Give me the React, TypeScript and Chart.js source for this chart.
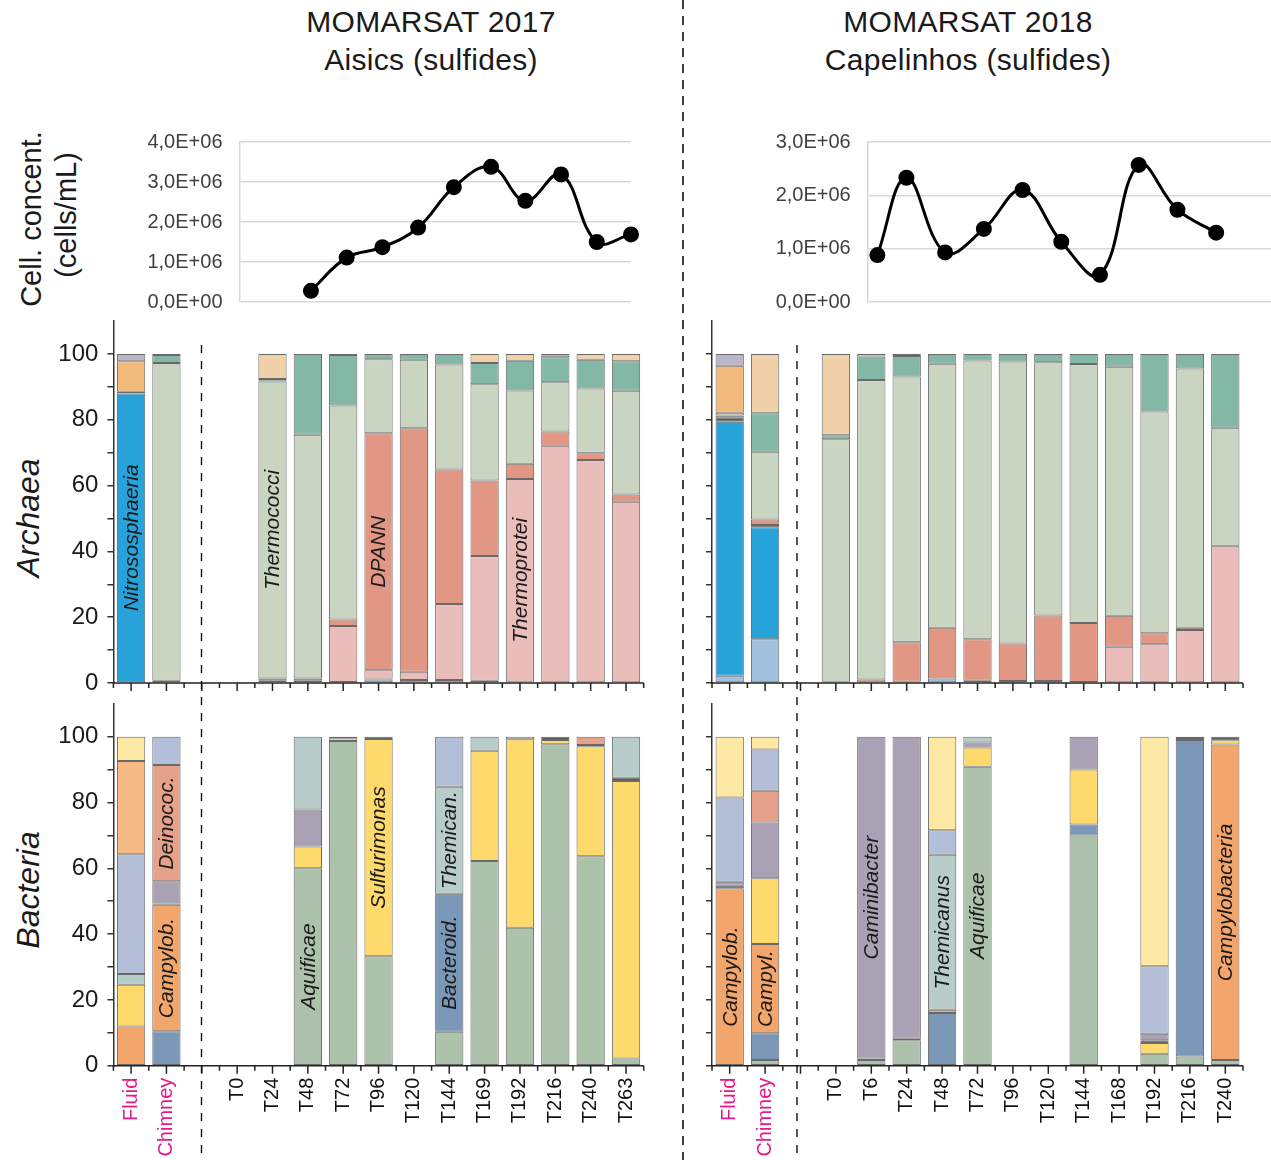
import React, { useEffect, useRef } from 'react';
import { Chart, registerables } from 'chart.js';
Chart.register(...registerables);

const FONT = "'Liberation Sans', Arial, Helvetica, sans-serif";
const MAGENTA = '#e6198a';
const _ = null;

// ---------- categories ----------
const categories2017 = ['Fluid', 'Chimney', '', 'T0', 'T24', 'T48', 'T72', 'T96', 'T120', 'T144', 'T169', 'T192', 'T216', 'T240', 'T263'];
const categories2018 = ['Fluid', 'Chimney', '', 'T0', 'T6', 'T24', 'T48', 'T72', 'T96', 'T120', 'T144', 'T168', 'T192', 'T216', 'T240'];

// ---------- cell concentration (cells/mL) ----------
const cellHours2017 = [48, 72, 96, 120, 144, 169, 192, 216, 240, 263];
const cellConc2017 = [0.28e6, 1.11e6, 1.37e6, 1.86e6, 2.87e6, 3.38e6, 2.53e6, 3.19e6, 1.5e6, 1.69e6];
const cellHours2018 = [6, 24, 48, 72, 96, 120, 144, 168, 192, 216];
const cellConc2018 = [0.88e6, 2.33e6, 0.93e6, 1.37e6, 2.1e6, 1.13e6, 0.51e6, 2.57e6, 1.73e6, 1.3e6];

// ---------- Archaea 2017 (%) ----------
const arch17LightBlue = [_, _, _, _, _, _, _, 1.1, 0.9, 0.9, 0.7, _, _, _, _];
const arch17Blue = [88, _, _, _, _, _, _, _, _, _, _, _, _, _, _];
const arch17Dark = [0.5, 0.7, _, _, _, _, 0.3, _, _, _, _, 0.4, _, _, _];
const arch17Pink = [_, _, _, _, 0.7, 0.7, 17, 2.8, 2.5, 23.1, 37.9, 61.6, 72.1, 67.8, 55.1];
const arch17Salmon = [_, _, _, _, 0.7, 0.7, 2, 72, 74, 40.9, 22.9, 4.6, 4.3, 2, 2.2];
const arch17LightGreen = [_, 96.5, _, _, 90.2, 74, 65, 22.5, 20.8, 31.9, 29.3, 22.3, 15, 19.7, 31.5];
const arch17Teal = [_, 2.5, _, _, 0.8, 24.6, 15.4, 1.6, 1.8, 3.2, 6.4, 9, 7.6, 8.7, 9];
const arch17Peach = [_, _, _, _, 7.6, _, _, _, _, _, 2.8, 2.1, _, 1.8, 2.2];
const arch17LightOrange = [9.3, 0.3, _, _, _, _, _, _, _, _, _, _, _, _, _];
const arch17Lavender = [2.2, _, _, _, _, _, 0.3, _, _, _, _, _, 1, _, _];

// ---------- Archaea 2018 (%) ----------
const arch18LightBlue = [2.2, 13.3, _, _, _, _, 1.4, _, _, _, _, _, _, _, _];
const arch18Blue = [77.2, 34, _, _, _, _, _, _, _, _, _, _, _, _, _];
const arch18Dark = [1.2, 0.7, _, 0.4, _, 0.4, _, 0.7, 0.6, 0.6, 0.3, _, _, _, _];
const arch18Pink = [_, _, _, _, _, _, _, _, _, _, _, 11, 11.8, 16.1, 41.7];
const arch18Salmon = [_, 1.7, _, _, 1.1, 12, 15.4, 12.6, 11.4, 19.9, 17.9, 9.4, 3.3, 0.7, _];
const arch18LightGreen = [_, 20.6, _, 73.7, 91, 80.7, 80.2, 84.7, 85.7, 77, 78.7, 75.7, 67.4, 78.8, 35.9];
const arch18Teal = [0.7, 11.7, _, 1.2, 7.1, 6.3, 3, 2, 2.3, 2.5, 3.1, 3.9, 17.5, 4.4, 22.4];
const arch18Peach = [0.8, 18, _, 24.7, 0.8, 0.6, _, _, _, _, _, _, _, _, _];
const arch18LightOrange = [14.3, _, _, _, _, _, _, _, _, _, _, _, _, _, _];
const arch18Lavender = [3.6, _, _, _, _, _, _, _, _, _, _, _, _, _, _];

// ---------- Bacteria 2017 (%) ----------
const bact17Green = [_, _, _, _, _, 60, 98.7, 33.3, _, 10.3, 62.2, 41.9, 97.7, 63.7, 2.2];
const bact17SteelBlue = [_, 10.5, _, _, _, _, _, _, _, 42, _, _, _, _, _];
const bact17Orange = [11.9, 38.4, _, _, _, _, _, _, _, _, _, _, _, _, _];
const bact17Yellow = [12.7, _, _, _, _, 6.6, 0.8, 66, _, _, 33.5, 57.3, 1.3, 33.4, 84.3];
const bact17Dark = [_, 0.4, _, _, _, _, 0.5, 0.7, _, _, _, _, 1, 0.4, 1];
const bact17Purple = [_, 6.8, _, _, _, 11.3, _, _, _, _, _, _, _, _, _];
const bact17PaleTeal = [3.3, _, _, _, _, 22.1, _, _, _, 32.5, 4.3, _, _, _, 12.5];
const bact17Salmon = [_, 35.3, _, _, _, _, _, _, _, _, _, _, _, 2.5, _];
const bact17BlueGray = [36.4, 8.6, _, _, _, _, _, _, _, 15.2, _, _, _, _, _];
const bact17LightOrange = [28.3, _, _, _, _, _, _, _, _, _, _, _, _, _, _];
const bact17LightYellow = [7.4, _, _, _, _, _, _, _, _, _, _, 0.8, _, _, _];

// ---------- Bacteria 2018 (%) ----------
const bact18Green = [_, 1.7, _, _, 1.7, 7.7, _, 90.9, _, _, 70, _, 3.6, 2.8, 1.7];
const bact18SteelBlue = [_, 8.2, _, _, _, _, 16, _, _, _, 3.3, _, _, 96.2, _];
const bact18Orange = [53.9, 27.1, _, _, _, _, 1, _, _, _, _, _, _, _, 95.9];
const bact18Yellow = [_, 20, _, _, _, _, _, 5.8, _, _, 16.7, _, 3.3, 0.6, 1.3];
const bact18Dark = [0.8, _, _, _, 0.5, 0.5, _, _, _, _, _, _, 0.8, 0.4, 1.1];
const bact18Purple = [1.2, 16.9, _, _, 97.8, 91.8, _, 1.5, _, _, 10, _, 2, _, _];
const bact18PaleTeal = [_, _, _, _, _, _, 47.1, 1.8, _, _, _, _, _, _, _];
const bact18Salmon = [_, 9.7, _, _, _, _, _, _, _, _, _, _, _, _, _];
const bact18BlueGray = [25.6, 12.5, _, _, _, _, 7.5, _, _, _, _, _, 20.5, _, _];
const bact18LightYellow = [18.5, 3.9, _, _, _, _, 28.4, _, _, _, _, _, 69.8, _, _];

// ---------- colours ----------
const C = {
  lightBlue: '#a2c1df', blue: '#27a3da', dark: '#5b5b5b', pink: '#ebbdba', salmonA: '#e29784',
  lightGreen: '#c9d5c1', teal: '#83b8a6', peach: '#f1d1aa', lightOrangeA: '#f2b97c', lavender: '#bbb6c9',
  green: '#adc2ab', steelBlue: '#7b98b9', orange: '#f2a66c', yellow: '#fed96c', purple: '#a9a2b4',
  paleTeal: '#b8cdca', salmonB: '#e5a189', blueGray: '#b3bfd9', lightOrangeB: '#f6ba85', lightYellow: '#fde8a4',
};

const archaea2017 = [
  ['lightBlue', arch17LightBlue, C.lightBlue], ['blue', arch17Blue, C.blue], ['dark', arch17Dark, C.dark],
  ['pink', arch17Pink, C.pink], ['salmon', arch17Salmon, C.salmonA], ['lightGreen', arch17LightGreen, C.lightGreen],
  ['teal', arch17Teal, C.teal], ['peach', arch17Peach, C.peach], ['lightOrange', arch17LightOrange, C.lightOrangeA],
  ['lavender', arch17Lavender, C.lavender],
];
const archaea2018 = [
  ['lightBlue', arch18LightBlue, C.lightBlue], ['blue', arch18Blue, C.blue], ['dark', arch18Dark, C.dark],
  ['pink', arch18Pink, C.pink], ['salmon', arch18Salmon, C.salmonA], ['lightGreen', arch18LightGreen, C.lightGreen],
  ['teal', arch18Teal, C.teal], ['peach', arch18Peach, C.peach], ['lightOrange', arch18LightOrange, C.lightOrangeA],
  ['lavender', arch18Lavender, C.lavender],
];
const bacteria2017 = [
  ['green', bact17Green, C.green], ['steelBlue', bact17SteelBlue, C.steelBlue], ['orange', bact17Orange, C.orange],
  ['yellow', bact17Yellow, C.yellow], ['dark', bact17Dark, C.dark], ['purple', bact17Purple, C.purple],
  ['paleTeal', bact17PaleTeal, C.paleTeal], ['salmon', bact17Salmon, C.salmonB], ['blueGray', bact17BlueGray, C.blueGray],
  ['lightOrange', bact17LightOrange, C.lightOrangeB], ['lightYellow', bact17LightYellow, C.lightYellow],
];
const bacteria2018 = [
  ['green', bact18Green, C.green], ['steelBlue', bact18SteelBlue, C.steelBlue], ['orange', bact18Orange, C.orange],
  ['yellow', bact18Yellow, C.yellow], ['dark', bact18Dark, C.dark], ['purple', bact18Purple, C.purple],
  ['paleTeal', bact18PaleTeal, C.paleTeal], ['salmon', bact18Salmon, C.salmonB], ['blueGray', bact18BlueGray, C.blueGray],
  ['lightYellow', bact18LightYellow, C.lightYellow],
];

// ---------- in-bar taxon labels ----------
const archaeaText2017 = [
  { cat: 'Fluid', taxon: 'blue', text: 'Nitrososphaeria' },
  { cat: 'T24', taxon: 'lightGreen', text: 'Thermococci' },
  { cat: 'T96', taxon: 'salmon', text: 'DPANN' },
  { cat: 'T192', taxon: 'pink', text: 'Thermoprotei' },
];
const bacteriaText2017 = [
  { cat: 'Chimney', taxon: 'salmon', text: 'Deinococ.' },
  { cat: 'Chimney', taxon: 'orange', text: 'Campylob.' },
  { cat: 'T48', taxon: 'green', text: 'Aquificae' },
  { cat: 'T96', taxon: 'yellow', text: 'Sulfurimonas' },
  { cat: 'T144', taxon: 'steelBlue', text: 'Bacteroid.' },
  { cat: 'T144', taxon: 'paleTeal', text: 'Themican.' },
];
const bacteriaText2018 = [
  { cat: 'Fluid', taxon: 'orange', text: 'Campylob.' },
  { cat: 'Chimney', taxon: 'orange', text: 'Campyl.' },
  { cat: 'T6', taxon: 'purple', text: 'Caminibacter' },
  { cat: 'T48', taxon: 'paleTeal', text: 'Themicanus' },
  { cat: 'T72', taxon: 'green', text: 'Aquificae' },
  { cat: 'T240', taxon: 'orange', text: 'Campylobacteria' },
];

// ---------- plugins ----------
const barTextPlugin = {
  id: 'barText',
  afterDatasetsDraw(chart: any, _args: any, opts: any) {
    const ctx = chart.ctx;
    const cats = chart.data.labels;
    (opts.items || []).forEach((it: any) => {
      const di = chart.data.datasets.findIndex((d: any) => d.label === it.taxon);
      const ci = cats.indexOf(it.cat);
      if (di < 0 || ci < 0) return;
      const el = chart.getDatasetMeta(di).data[ci];
      if (!el) return;
      const y = (el.y + el.base) / 2;
      ctx.save();
      ctx.translate(el.x, y);
      ctx.rotate(-Math.PI / 2);
      ctx.font = `italic 21px ${FONT}`;
      ctx.fillStyle = '#1a1a1a';
      ctx.textAlign = 'center';
      ctx.textBaseline = 'middle';
      ctx.fillText(it.text, 0, 1);
      ctx.restore();
    });
  },
};

const xAxisPlugin = {
  id: 'xAxisTicks',
  afterDraw(chart: any) {
    const { ctx, chartArea } = chart;
    const { left, right, bottom } = chartArea;
    const n = chart.data.labels.length;
    const step = (right - left) / n;
    ctx.save();
    ctx.strokeStyle = '#222';
    ctx.lineWidth = 1.5;
    ctx.beginPath();
    ctx.moveTo(left - 1, bottom);
    ctx.lineTo(right, bottom);
    for (let i = 0; i <= 2 * n; i++) {
      const x = left + (i * step) / 2;
      const len = i % 2 ? 8 : 5;
      ctx.moveTo(x, bottom);
      ctx.lineTo(x, bottom + len);
    }
    ctx.stroke();
    ctx.restore();
  },
};

function sci(v: number) {
  if (v === 0) return '0,0E+00';
  const e = Math.floor(Math.log10(v) + 1e-9);
  const m = v / Math.pow(10, e);
  return m.toFixed(1).replace('.', ',') + 'E+' + String(e).padStart(2, '0');
}

function noPad(s: any) {
  s.paddingTop = 0;
  s.paddingBottom = 0;
  s.paddingLeft = 0;
  s.paddingRight = 0;
}

function barConfig(cats: string[], groups: any[], texts: any[], showX: boolean, showYLabels: boolean, yWidth: number, pad: any, xHeight: number) {
  return {
    type: 'bar',
    data: {
      labels: cats,
      datasets: groups.map(([key, values, color]) => ({
        label: key,
        data: values,
        backgroundColor: color,
        borderColor: 'rgba(55,55,55,0.75)',
        borderWidth: 1,
        borderSkipped: false,
        barPercentage: 0.8,
        categoryPercentage: 1,
      })),
    },
    options: {
      responsive: false,
      animation: false,
      devicePixelRatio: 1,
      layout: { padding: pad, autoPadding: false },
      plugins: { legend: { display: false }, tooltip: { enabled: false }, barText: { items: texts } },
      scales: {
        x: {
          stacked: true,
          display: showX,
          grid: { display: false, drawTicks: false },
          border: { display: false },
          ticks: {
            autoSkip: false,
            maxRotation: 90,
            minRotation: 90,
            padding: 12,
            font: { size: 20, family: FONT },
            color: (c: any) => (c.index < 2 ? MAGENTA : '#111'),
          },
          afterFit: (s: any) => { s.height = xHeight; noPad(s); },
        },
        y: {
          stacked: true,
          min: 0,
          max: 110,
          ticks: {
            stepSize: 10,
            padding: 9,
            font: { size: 24, family: FONT },
            color: '#1a1a1a',
            callback: (v: any) => (showYLabels && Math.round(v) % 20 === 0 ? String(v) : ''),
          },
          grid: { display: true, drawOnChartArea: false, drawTicks: true, tickLength: 6, color: '#333', lineWidth: 1.5 },
          border: { display: true, color: '#333', width: 1.5 },
          afterBuildTicks: (a: any) => { a.ticks = a.ticks.filter((t: any) => t.value <= 100); },
          afterFit: (s: any) => { s.width = yWidth; noPad(s); },
        },
      },
    },
    plugins: [barTextPlugin, xAxisPlugin],
  };
}

function lineConfig(hours: number[], values: number[], xMax: number, yMax: number, yWidth: number, pad: any) {
  return {
    type: 'line',
    data: {
      datasets: [{
        data: hours.map((h, i) => ({ x: h, y: values[i] })),
        borderColor: '#000',
        borderWidth: 3,
        tension: 0.4,
        pointRadius: 6.5,
        pointBackgroundColor: '#000',
        pointBorderColor: '#000',
        clip: false,
        fill: false,
      }],
    },
    options: {
      responsive: false,
      animation: false,
      devicePixelRatio: 1,
      layout: { padding: pad, autoPadding: false },
      plugins: { legend: { display: false }, tooltip: { enabled: false } },
      scales: {
        x: { type: 'linear', min: 0, max: xMax, display: false },
        y: {
          min: 0,
          max: yMax,
          ticks: { stepSize: 1e6, padding: 17, font: { size: 20, family: FONT }, color: '#404040', callback: (v: any) => sci(v) },
          grid: { color: '#d9d9d9', lineWidth: 1.5, drawTicks: false },
          border: { display: true, color: '#d9d9d9', width: 1.5 },
          afterFit: (s: any) => { s.width = yWidth; noPad(s); },
        },
      },
    },
  };
}

function ChartBox({ left, top, width, height, make }: any) {
  const ref = useRef<HTMLCanvasElement>(null);
  useEffect(() => {
    const chart = new Chart(ref.current as HTMLCanvasElement, make() as any);
    return () => chart.destroy();
  }, []);
  return (
    <div style={{ position: 'absolute', left, top, width, height }}>
      <canvas ref={ref} width={width} height={height} style={{ width, height, display: 'block' }} />
    </div>
  );
}

function VText({ x, y, children, size, italic, color }: any) {
  return (
    <div style={{
      position: 'absolute', left: x, top: y, transform: 'translate(-50%, -50%) rotate(-90deg)',
      whiteSpace: 'nowrap', fontFamily: FONT, fontSize: size, fontStyle: italic ? 'italic' : 'normal',
      color: color || '#1a1a1a', lineHeight: 1,
    }}>{children}</div>
  );
}

function HText({ x, y, children, size }: any) {
  return (
    <div style={{
      position: 'absolute', left: x, top: y, transform: 'translate(-50%, -50%)',
      whiteSpace: 'nowrap', fontFamily: FONT, fontSize: size, color: '#1a1a1a', lineHeight: 1,
      letterSpacing: 0.3,
    }}>{children}</div>
  );
}

export default function App() {
  return (
    <div style={{ position: 'absolute', left: 0, top: 0, width: 1271, height: 1160, background: '#fff', overflow: 'hidden' }}>
      <HText x={431} y={22} size={30}>MOMARSAT 2017</HText>
      <HText x={431} y={60} size={30}>Aisics (sulfides)</HText>
      <HText x={968} y={22} size={30}>MOMARSAT 2018</HText>
      <HText x={968} y={60} size={30}>Capelinhos (sulfides)</HText>

      <VText x={31} y={219} size={29}>Cell. concent.</VText>
      <VText x={66} y={215} size={29}>(cells/mL)</VText>
      <VText x={28} y={518} size={32} italic>Archaea</VText>
      <VText x={28} y={890} size={32} italic>Bacteria</VText>

      <ChartBox left={130} top={120} width={520} height={200}
        make={() => lineConfig(cellHours2017, cellConc2017, 263, 4e6, 109.5, { top: 22, right: 19, bottom: 18, left: 0 })} />
      <ChartBox left={760} top={120} width={511} height={200}
        make={() => lineConfig(cellHours2018, cellConc2018, 250, 3e6, 107.7, { top: 22, right: 0, bottom: 18, left: 0 })} />

      <ChartBox left={0} top={300} width={660} height={400}
        make={() => barConfig(categories2017, archaea2017, archaeaText2017, false, true, 113.4, { top: 21, right: 16.3, bottom: 17, left: 0 }, 0)} />
      <ChartBox left={600} top={300} width={660} height={400}
        make={() => barConfig(categories2018, archaea2018, [], false, false, 112, { top: 21, right: 17, bottom: 17, left: 0 }, 0)} />
      <ChartBox left={0} top={690} width={660} height={470}
        make={() => barConfig(categories2017, bacteria2017, bacteriaText2017, true, true, 113.4, { top: 13.8, right: 16.3, bottom: 0, left: 0 }, 94.3)} />
      <ChartBox left={600} top={690} width={660} height={470}
        make={() => barConfig(categories2018, bacteria2018, bacteriaText2018, true, false, 112, { top: 13.8, right: 17, bottom: 0, left: 0 }, 94.3)} />

      <svg width={1271} height={1160} style={{ position: 'absolute', left: 0, top: 0, pointerEvents: 'none' }}>
        <line x1={683} y1={0} x2={683} y2={1160} stroke="#111" strokeWidth={1.6} strokeDasharray="9 7" />
        <line x1={201.5} y1={345} x2={201.5} y2={1160} stroke="#111" strokeWidth={1.4} strokeDasharray="8 8" />
        <line x1={797} y1={345} x2={797} y2={1160} stroke="#111" strokeWidth={1.4} strokeDasharray="8 8" />
      </svg>
    </div>
  );
}
